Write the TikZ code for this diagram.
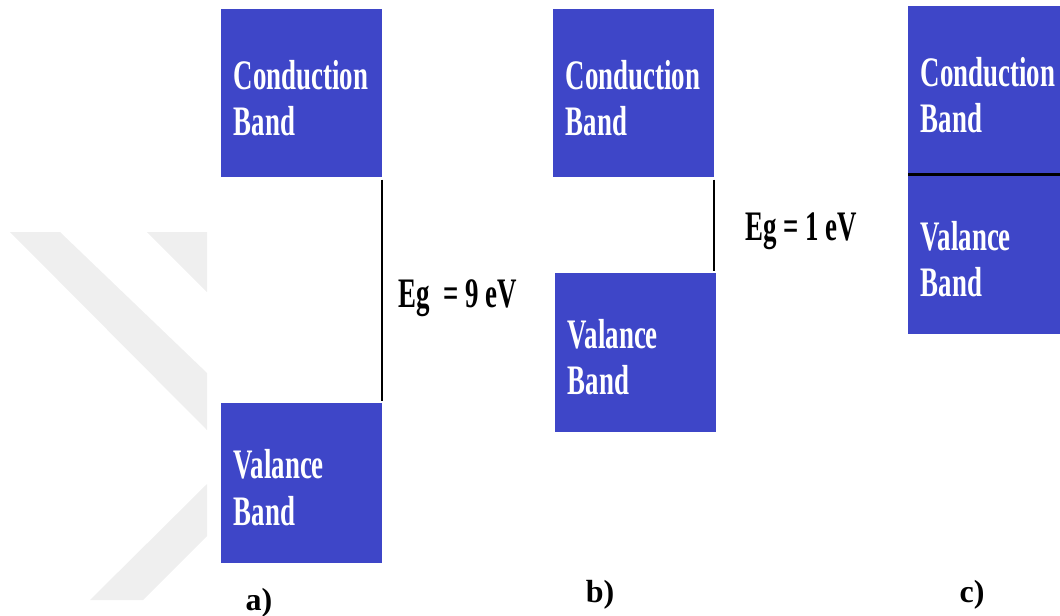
\documentclass[tikz,border=0pt]{standalone}
\usepackage{fontspec}
\setmainfont{Liberation Serif}
\newfontfamily\bandfont[FakeStretch=0.64]{Liberation Serif}
\usetikzlibrary{positioning}
\definecolor{bandblue}{RGB}{62,70,200}
\definecolor{markgray}{RGB}{239,239,239}

\begin{document}
\begin{tikzpicture}[x=0.75pt,y=-0.75pt,
    band/.style={fill=bandblue,text=white,minimum width=120.75pt,minimum height=126pt,
      text width=102pt,align=left,inner sep=0pt,
      execute at begin node={\rule{0pt}{29pt}},
      font=\bandfont\bfseries\fontsize{31.5}{35}\selectfont},
    gaptext/.style={font=\bandfont\bfseries\fontsize{31.5}{35}\selectfont,
      inner sep=0pt,anchor=base west},
    caption/.style={font=\bfseries\fontsize{24}{28}\selectfont,inner sep=0pt,anchor=base},
    gapline/.style={line width=1.5pt}]
  \useasboundingbox (0,0) rectangle (1060,615);
  \clip (0,0) rectangle (1060,615);
  % faint watermark on the left
  \fill[markgray] (10,232) -- (60,232) -- (207,373) -- (207,430) -- cycle;
  \fill[markgray] (147,232) -- (207,232) -- (207,292) -- cycle;
  \fill[markgray] (90,600) -- (143,600) -- (207,536) -- (207,484) -- cycle;
  % a) insulator
  \node[band,anchor=north west] (cba) at (221,9) {Conduction\\Band};
  \node[band,minimum height=120pt,below=168.75pt of cba] (vba) {Valance\\Band};
  \draw[gapline] ([xshift=-0.75pt,yshift=-1.5pt]cba.south east)
    -- ([xshift=-0.75pt,yshift=1.5pt]vba.north east);
  \node[gaptext] (ega) at (398,307) {Eg~ = 9 eV};
  \node[caption] (capa) at (259,610) {a)};
  % b) semiconductor
  \node[band,anchor=north west] (cbb) at (553,9) {Conduction\\Band};
  \node[band,minimum height=119.25pt,below=71.25pt of cbb,xshift=1.5pt] (vbb) {Valance\\Band};
  \draw[gapline] ([xshift=-0.75pt,yshift=-1.5pt]cbb.south east)
    -- ([xshift=-2.25pt,yshift=1.5pt]vbb.north east);
  \node[gaptext] (egb) at (745,240) {Eg = 1 eV};
  \node[caption] (capb) at (600,602) {b)};
  % c) conductor
  \node[band,anchor=north west] (cbc) at (908,6) {Conduction\\Band};
  \node[band,minimum height=119.25pt,below=0pt of cbc] (vbc) {Valance\\Band};
  \draw[line width=2.2pt] (cbc.south west) -- (cbc.south east);
  \node[caption] (capc) at (972,602) {c)};
\end{tikzpicture}
\end{document}
